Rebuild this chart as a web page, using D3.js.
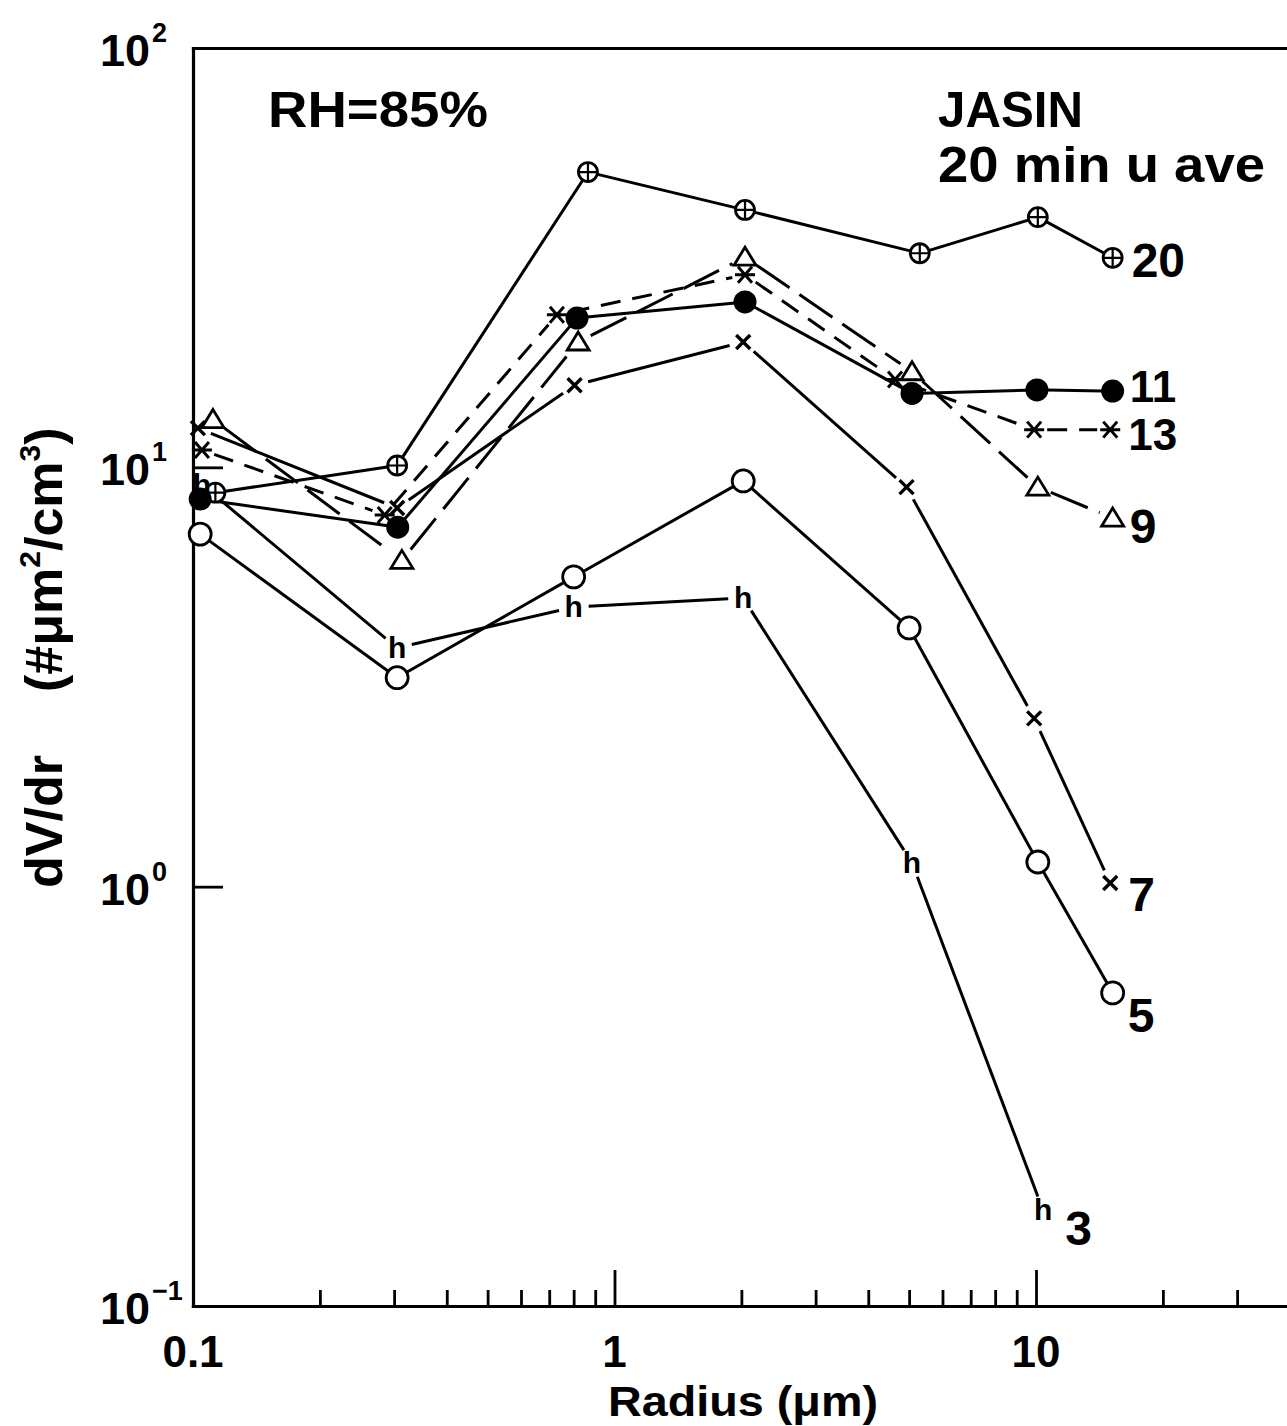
<!DOCTYPE html>
<html>
<head>
<meta charset="utf-8">
<script src="https://cdn.jsdelivr.net/npm/d3@7"></script>
<style>
  body { margin: 0; background: #fff; }
  text { font-family: "Liberation Sans", Arial, Helvetica, sans-serif; font-weight: bold; fill: #000; }
</style>
</head>
<body>
<svg id="chart" width="1287" height="1426"></svg>
<script>
// ---------------- DATA ----------------
const seriesNames = ["20", "11", "13", "9", "7", "5", "3"];

const radius20 = [0.113, 0.305, 0.865, 2.04, 5.3, 10.1, 15.2];
const dvdr20   = [8.7, 10.1, 50.6, 41.1, 32.4, 39.5, 31.6];

const radius11 = [0.104, 0.306, 0.815, 2.04, 5.08, 10.05, 15.2];
const dvdr11   = [8.4, 7.2, 22.7, 24.8, 15.0, 15.3, 15.2];

const radius13 = [0.105, 0.285, 0.73, 2.04, 4.63, 9.9, 15.0];
const dvdr13   = [11.0, 7.7, 23.1, 28.8, 16.2, 12.3, 12.3];

const radius9  = [0.1115, 0.313, 0.82, 2.04, 5.08, 10.1, 15.2];
const dvdr9    = [13.0, 6.0, 19.9, 31.7, 16.9, 8.97, 7.57];

const radius7  = [0.1027, 0.305, 0.804, 2.02, 4.93, 9.9, 15.0];
const dvdr7    = [12.4, 8.0, 15.7, 19.9, 8.97, 2.52, 1.02];

const radius5  = [0.104, 0.305, 0.80, 2.02, 5.0, 10.1, 15.2];
const dvdr5    = [6.93, 3.15, 5.48, 9.28, 4.14, 1.145, 0.558];

const radius3  = [0.105, 0.305, 0.80, 2.02, 5.08, 10.4];
const dvdr3    = [9.1, 3.71, 4.64, 4.88, 1.14, 0.169];

const xMajorTicks = [1, 10];
const xMinorTicks = [0.2, 0.3, 0.4, 0.5, 0.6, 0.7, 0.8, 0.9, 2, 3, 4, 5, 6, 7, 8, 9, 20, 30, 40, 50, 60, 70, 80, 90];
const xTickLabels = ["0.1", "1", "10"];
const xTickLabelValues = [0.1, 1, 10];
const yTickValues = [100, 10, 1, 0.1];
const yTickExponents = ["2", "1", "0", "\u22121"];

// ---------------- STYLE ----------------
const styles = {
  "20": { marker: "oplus",    dash: null,    gap: 10, lab: [19, 19], fs: 48 },
  "11": { marker: "dot",      dash: null,    gap: 10, lab: [17, 11], fs: 44 },
  "13": { marker: "star",     dash: "20,12", gap: 13, lab: [18, 20], fs: 44 },
  "9":  { marker: "triangle", dash: "40,12", gap: 14, lab: [17, 25], fs: 48 },
  "7":  { marker: "x",        dash: null,    gap: 14, lab: [18, 28], fs: 48 },
  "5":  { marker: "ocircle",  dash: null,    gap: 11, lab: [15, 39], fs: 48 },
  "3":  { marker: "h",        dash: null,    gap: 15, lab: [22, 35], fs: 48 }
};

const seriesData = {
  "20": [radius20, dvdr20], "11": [radius11, dvdr11], "13": [radius13, dvdr13],
  "9": [radius9, dvdr9], "7": [radius7, dvdr7], "5": [radius5, dvdr5], "3": [radius3, dvdr3]
};

// ---------------- CHART ----------------
(function () {
const svg = d3.select("#chart");
const plotLeft = 193, plotBottom = 1306, plotTop = 48, decadeX = 421.5;

const x = d3.scaleLog().domain([0.1, 100]).range([plotLeft, plotLeft + 3 * decadeX]);
const y = d3.scaleLog().domain([0.1, 100]).range([plotBottom, plotTop]);

const axisStroke = 3.2;
const lineW = 3;

const gMinor = svg.append("g").attr("transform", `translate(0,${plotBottom})`)
  .call(d3.axisBottom(x).tickValues(xMinorTicks).tickSizeInner(-16).tickSizeOuter(0).tickFormat(""));
const gMajor = svg.append("g").attr("transform", `translate(0,${plotBottom})`)
  .call(d3.axisBottom(x).tickValues(xMajorTicks).tickSizeInner(-36).tickSizeOuter(0).tickFormat(""));
const gTop = svg.append("g").attr("transform", `translate(0,${plotTop})`)
  .call(d3.axisTop(x).tickValues([]).tickSizeOuter(0));
const gLeft = svg.append("g").attr("transform", `translate(${plotLeft},0)`)
  .call(d3.axisLeft(y).tickValues([10, 1]).tickSizeInner(-30).tickSizeOuter(0).tickFormat(""));

[gMinor, gMajor, gTop, gLeft].forEach(g => {
  g.selectAll("path.domain").attr("stroke", "#000").attr("stroke-width", axisStroke).attr("stroke-linecap", "square");
  g.selectAll(".tick line").attr("stroke", "#000").attr("stroke-width", 2.8);
});

xTickLabelValues.forEach((v, i) => {
  svg.append("text").attr("x", x(v)).attr("y", 1367).attr("text-anchor", "middle")
    .attr("font-size", 44).text(xTickLabels[i]);
});

yTickValues.forEach((v, i) => {
  const yy = y(v);
  svg.append("text").attr("x", 150).attr("y", yy + 18).attr("text-anchor", "end")
    .attr("font-size", 45).text("10");
  svg.append("text").attr("x", 152).attr("y", yy - 6).attr("text-anchor", "start")
    .attr("font-size", 27).text(yTickExponents[i]);
});

svg.append("text").attr("x", 743).attr("y", 1416).attr("text-anchor", "middle")
  .attr("font-size", 43).attr("textLength", 270).attr("lengthAdjust", "spacingAndGlyphs")
  .text("Radius (\u03bcm)");

// y-axis title in two parts
svg.append("text").attr("transform", "translate(62,888) rotate(-90)")
  .attr("text-anchor", "start").attr("font-size", 52).text("dV/dr");
const yt = svg.append("text").attr("transform", "translate(62,692) rotate(-90)")
  .attr("text-anchor", "start").attr("font-size", 52);
yt.append("tspan").text("(#\u03bcm");
yt.append("tspan").attr("font-size", 30).attr("dy", -22).text("2");
yt.append("tspan").attr("dy", 22).text("/cm");
yt.append("tspan").attr("font-size", 30).attr("dy", -22).text("3");
yt.append("tspan").attr("dy", 22).text(")");

svg.append("text").attr("x", 268).attr("y", 127).attr("font-size", 50)
  .attr("textLength", 220).attr("lengthAdjust", "spacingAndGlyphs").text("RH=85%");
svg.append("text").attr("x", 938).attr("y", 127).attr("font-size", 50)
  .attr("textLength", 145).attr("lengthAdjust", "spacingAndGlyphs").text("JASIN");
svg.append("text").attr("x", 938).attr("y", 182).attr("font-size", 50)
  .attr("textLength", 327).attr("lengthAdjust", "spacingAndGlyphs").text("20 min u ave");

const lineGen = d3.line();
function trimSeg(p, q, g) {
  const dx = q[0] - p[0], dy = q[1] - p[1];
  const L = Math.hypot(dx, dy);
  if (L <= 2 * g) return null;
  const ux = dx / L, uy = dy / L;
  return [[p[0] + ux * g, p[1] + uy * g], [q[0] - ux * g, q[1] - uy * g]];
}

function drawMarker(g, type, cx, cy) {
  const m = g.append("g").attr("transform", `translate(${cx},${cy})`);
  const sw = 2.8;
  if (type === "oplus") {
    m.append("circle").attr("r", 9.5).attr("fill", "#fff").attr("stroke", "#000").attr("stroke-width", sw);
    m.append("path").attr("d", "M-9,0H9M0,-9V9").attr("stroke", "#000").attr("stroke-width", 2.2);
  } else if (type === "dot") {
    m.append("circle").attr("r", 11.5).attr("fill", "#000");
  } else if (type === "ocircle") {
    m.append("circle").attr("r", 11).attr("fill", "#fff").attr("stroke", "#000").attr("stroke-width", sw);
  } else if (type === "triangle") {
    m.append("path").attr("d", "M0,-10L11,8L-11,8Z").attr("fill", "#fff").attr("stroke", "#000").attr("stroke-width", sw);
  } else if (type === "x") {
    m.append("path").attr("d", "M-7,-7L7,7M-7,7L7,-7").attr("stroke", "#000").attr("stroke-width", 3.4);
  } else if (type === "star") {
    m.append("path").attr("d", "M-7,-8L7,8M-7,8L7,-8M-10,0H10").attr("stroke", "#000").attr("stroke-width", 3);
  } else if (type === "h") {
    m.append("text").attr("text-anchor", "middle").attr("y", 10).attr("font-size", 30).text("h");
  }
}

const linesG = svg.append("g");
const markersG = svg.append("g");

seriesNames.forEach(name => {
  const [rs, vs] = seriesData[name];
  const st = styles[name];
  const pts = rs.map((r, i) => [x(r), y(vs[i])]);
  for (let i = 0; i < pts.length - 1; i++) {
    const seg = trimSeg(pts[i], pts[i + 1], st.gap);
    if (!seg) continue;
    const p = linesG.append("path").attr("d", lineGen(seg))
      .attr("fill", "none").attr("stroke", "#000").attr("stroke-width", lineW);
    if (st.dash) p.attr("stroke-dasharray", st.dash);
  }
  pts.forEach(p => drawMarker(markersG, st.marker, p[0], p[1]));
  const last = pts[pts.length - 1];
  svg.append("text").attr("x", last[0] + st.lab[0]).attr("y", last[1] + st.lab[1])
    .attr("font-size", st.fs).text(name);
});
})();
</script>
</body>
</html>
